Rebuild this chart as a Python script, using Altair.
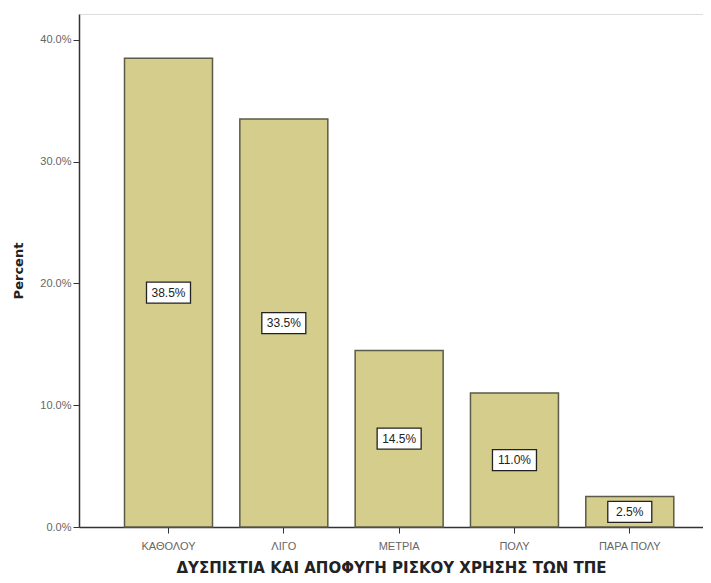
import altair as alt
import pandas as pd

categories = ["ΚΑΘΟΛΟΥ", "ΛΙΓΟ", "ΜΕΤΡΙΑ", "ΠΟΛΥ", "ΠΑΡΑ ΠΟΛΥ"]
percents = [38.5, 33.5, 14.5, 11.0, 2.5]
y_ticks = [0, 10, 20, 30, 40]

df = pd.DataFrame({"cat": categories, "pct": percents})
df["mid"] = df["pct"] / 2
df["label"] = [f"{v:.1f}%" for v in percents]

xscale = alt.Scale(domain=categories, paddingInner=0.237, paddingOuter=0.324, align=0.609)
yscale = alt.Scale(domain=[0, 42.13], nice=False, zero=True)

base = alt.Chart(df)

bars = base.mark_bar(color="#D4CD8C", stroke="#5c5a48", strokeWidth=1.5).encode(
    x=alt.X("cat:N", scale=xscale, sort=categories,
            axis=alt.Axis(title="ΔΥΣΠΙΣΤΙΑ ΚΑΙ ΑΠΟΦΥΓΗ ΡΙΣΚΟΥ ΧΡΗΣΗΣ ΤΩΝ ΤΠΕ",
                          labelAngle=0, labelFont="Liberation Sans", labelFontSize=11,
                          labelColor="#666666", tickColor="#333333", tickSize=6,
                          domainColor="#333333", domainWidth=1.5, labelPadding=7,
                          titleFont="DejaVu Sans", titleFontSize=15, titleFontWeight="bold",
                          titleColor="#222222", titlePadding=9)),
    y=alt.Y("pct:Q", scale=yscale,
            axis=alt.Axis(title="Percent", values=y_ticks, grid=False,
                          labelExpr="format(datum.value, '.1f') + '%'",
                          labelFont="Liberation Sans", labelFontSize=11, labelColor="#666666",
                          tickColor="#333333", tickSize=6, domainColor="#333333", domainWidth=1.5,
                          labelPadding=2,
                          titleFont="DejaVu Sans", titleFontSize=13, titleFontWeight="bold",
                          titleColor="#222222", titlePadding=14)),
)

boxes = base.mark_rect(width=44, height=21, fill="white", stroke="#222222", strokeWidth=1.3).encode(
    x=alt.X("cat:N", scale=xscale, sort=categories),
    y=alt.Y("mid:Q", scale=yscale),
)

texts = base.mark_text(font="Liberation Sans", fontSize=12, color="#222222", baseline="middle").encode(
    x=alt.X("cat:N", scale=xscale, sort=categories),
    y=alt.Y("mid:Q", scale=yscale),
    text="label:N",
)

chart = (bars + boxes + texts).properties(
    width=624, height=513,
    autosize=alt.AutoSizeParams(type="none"),
    padding={"left": 71, "top": 6, "right": 0, "bottom": 48},
).configure_view(
    fill="#F0F0F0", stroke="#808080", strokeWidth=2
).configure(background="white")

chart.save("out.html", embed_options={"renderer": "svg", "actions": False})
